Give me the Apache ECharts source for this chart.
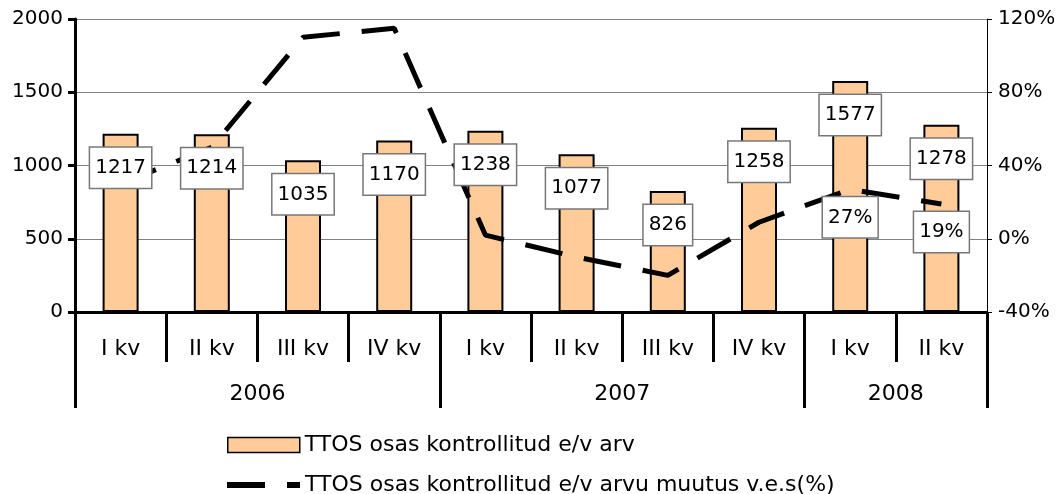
<!DOCTYPE html>
<html>
<head>
<meta charset="utf-8">
<script src="https://cdn.jsdelivr.net/npm/echarts@6/dist/echarts.min.js"></script>
<style>
  html, body { margin: 0; padding: 0; background: #fff; }
  #container { width: 1063px; height: 494px; }
</style>
</head>
<body>
<div id="container"></div>
<script>
var quarters = ["I kv", "II kv", "III kv", "IV kv", "I kv", "II kv", "III kv", "IV kv", "I kv", "II kv"];
// year labels sit on category boundaries (0..10)
var yearSlots = ["", "", "2006", "", "", "", "2007", "", "", "2008", ""];
var yearBounds = [0, 4, 8, 10];
var counts = [1217, 1214, 1035, 1170, 1238, 1077, 826, 1258, 1577, 1278];
var change = [30, 50, 110, 115, 2, -10, -20, 9, 27, 19];
var labelledChange = [8, 9];

var barName = "TTOS osas kontrollitud e/v arv";
var lineName = "TTOS osas kontrollitud e/v arvu muutus v.e.s(%)";
var font = "'DejaVu Sans', sans-serif";

var dom = document.getElementById("container");
var myChart = echarts.init(dom);

var boxLabel = {
  show: true,
  color: "#000",
  fontFamily: font,
  fontSize: 20,
  lineHeight: 24,
  backgroundColor: "#fff",
  borderColor: "#777",
  borderWidth: 1.5,
  padding: [8, 5, 8, 5]
};

var lineData = change.map(function(v, i) {
  if (labelledChange.indexOf(i) >= 0) {
    return { value: v, label: Object.assign({}, boxLabel, { position: "bottom", distance: 8, formatter: "{c}%" }) };
  }
  return v;
});

var legendText = { fontFamily: font, fontSize: 22, color: "#000" };

var option = {
  animation: false,
  textStyle: { fontFamily: font },
  grid: { left: 75, right: 76, top: 19, bottom: 182 },
  legend: [
    {
      left: 222,
      top: 429,
      itemWidth: 72,
      itemHeight: 15,
      itemGap: 8,
      data: [{ name: barName, icon: "rect" }],
      itemStyle: { borderColor: "#000", borderWidth: 1.5 },
      textStyle: legendText
    },
    {
      left: 222,
      top: 469,
      itemWidth: 73,
      itemHeight: 6,
      itemGap: 8,
      data: [{ name: lineName, icon: "path://M0,0H38V6H0Z M60,0H73V6H60Z" }],
      itemStyle: { color: "#000", borderWidth: 0 },
      textStyle: legendText
    }
  ],
  xAxis: [
    {
      type: "category",
      data: quarters,
      position: "bottom",
      axisLine: { onZero: false, lineStyle: { color: "#000", width: 3 } },
      axisTick: { show: true, inside: false, length: 50, lineStyle: { color: "#000", width: 3 } },
      axisLabel: { interval: 0, margin: 26, fontSize: 22, color: "#000", fontFamily: font }
    },
    {
      type: "category",
      data: yearSlots,
      boundaryGap: false,
      position: "bottom",
      axisLine: { show: false, onZero: false },
      axisTick: {
        show: true,
        inside: false,
        length: 96,
        interval: function(i) { return yearBounds.indexOf(i) >= 0; },
        lineStyle: { color: "#000", width: 3 }
      },
      axisLabel: { interval: 0, margin: 71, fontSize: 22, color: "#000", fontFamily: font }
    }
  ],
  yAxis: [
    {
      type: "value",
      min: 0,
      max: 2000,
      interval: 500,
      axisLine: { show: true, onZero: false, lineStyle: { color: "#000", width: 3 } },
      axisTick: { show: true, length: 7, lineStyle: { color: "#000", width: 3 } },
      axisLabel: { fontSize: 20, color: "#000", margin: 12, fontFamily: font, formatter: function(v) { return String(v); } },
      splitLine: { lineStyle: { color: "#808080", width: 1 } }
    },
    {
      type: "value",
      min: -40,
      max: 120,
      interval: 40,
      axisLine: { show: true, onZero: false, lineStyle: { color: "#000", width: 1 } },
      axisTick: { show: true, length: 5, lineStyle: { color: "#000", width: 1 } },
      axisLabel: { fontSize: 20, color: "#000", margin: 11, formatter: "{value}%", fontFamily: font },
      splitLine: { show: false }
    }
  ],
  series: [
    {
      name: barName,
      type: "bar",
      data: counts,
      barWidth: 36,
      z: 2,
      itemStyle: { color: "#FFCC99", borderColor: "#000", borderWidth: 2 }
    },
    {
      name: lineName,
      type: "line",
      yAxisIndex: 1,
      data: lineData,
      z: 3,
      symbol: "circle",
      symbolSize: 0,
      showSymbol: true,
      itemStyle: { color: "#000" },
      lineStyle: { color: "#000", width: 5, type: [38, 22], cap: "butt" },
      label: { show: false }
    },
    {
      name: "labels",
      type: "bar",
      data: counts,
      barWidth: 36,
      barGap: "-100%",
      z: 5,
      silent: true,
      itemStyle: { color: "rgba(0,0,0,0)" },
      label: Object.assign({}, boxLabel, { position: "insideTop", distance: 14 })
    }
  ]
};

if (option && typeof option === "object") {
  myChart.setOption(option, true);
}
</script>
</body>
</html>
